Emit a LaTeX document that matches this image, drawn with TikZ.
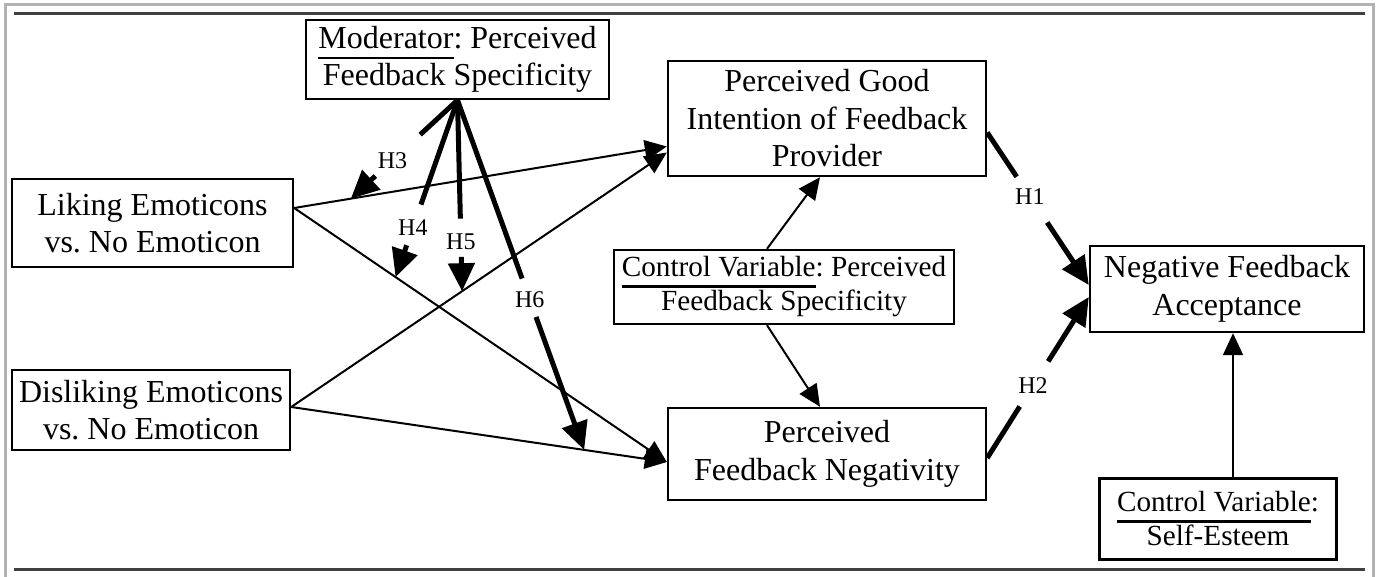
\documentclass[tikz,border=0pt]{standalone}
\usepackage{fontspec}
\setmainfont{Liberation Serif}
\usetikzlibrary{calc,arrows.meta}
\frenchspacing
% underline set a little below the baseline
\newcommand{\undl}[1]{\setbox0\hbox{#1}\rlap{\rule[-5.5pt]{\wd0}{1.3pt}}\box0}

\begin{document}
\begin{tikzpicture}[x=0.5pt,y=-0.5pt,>=Latex,
  box/.style={draw,line width=1.2pt,align=center,inner sep=0pt,font=\fontsize{16}{18.75}\selectfont},
  ctrlbox/.style={box,font=\fontsize{14.6}{17}\selectfont},
  lnk/.style={->,line width=1pt,>={Triangle[length=11pt,width=10pt]}},
  hyp/.style={line width=2.5pt,>={Triangle[length=14pt,width=13pt]}},
  hlab/.style={font=\fontsize{12}{14}\selectfont,inner sep=1pt}]
  \useasboundingbox (0,0) rectangle (1379,577);
  % frame
  \draw[gray!60,line width=1.5pt] (5,577)--(5,5)--(1373,5)--(1373,577);
  \draw[black!75,line width=1.5pt] (14,14)--(1365,14);
  \draw[black!75,line width=1.5pt] (14,569)--(1365,569);
  % boxes
  \node[box,minimum width=151.5pt,minimum height=39.5pt] (moder) at (457.5,59.5)
    {\undl{Moderator}: Perceived\\Feedback Specificity};
  \node[box,minimum width=140.5pt,minimum height=44pt] (liking) at (152.5,223)
    {Liking Emoticons\\vs. No Emoticon};
  \node[box,minimum width=139pt,minimum height=40pt] (disliking) at (151,410)
    {Disliking Emoticons\\vs. No Emoticon};
  \node[box,minimum width=159pt,minimum height=57.5pt] (goodint) at (827,118.5)
    {Perceived Good\\Intention of Feedback\\Provider};
  \node[ctrlbox,minimum width=170pt,minimum height=37pt] (ctrl) at (784,287)
    {\undl{Control Variable}: Perceived\\Feedback Specificity};
  \node[box,minimum width=159pt,minimum height=46pt] (negat) at (827,454)
    {Perceived\\Feedback Negativity};
  \node[box,minimum width=137pt,minimum height=43pt] (accept) at (1227,289)
    {Negative Feedback\\Acceptance};
  \node[ctrlbox,minimum width=118.5pt,minimum height=40.5pt] (selfest) at (1218,519)
    {\undl{Control Variable}:\\Self-Esteem};
  % direct effects
  \coordinate (likeout) at ([yshift=7.5pt]liking.east);
  \coordinate (dislout) at ([yshift=1.5pt]disliking.east);
  \draw[lnk] (likeout) -- coordinate[pos=0.152] (h3) ([yshift=-14pt]goodint.west);
  \draw[lnk] (likeout) -- coordinate[pos=0.272] (h4) ([yshift=-4pt]negat.west);
  \draw[lnk] (dislout) -- coordinate[pos=0.455] (h5) ([yshift=-17pt]goodint.west);
  \draw[lnk] (dislout) -- coordinate[pos=0.78] (h6) ([yshift=-4pt]negat.west);
  \draw[lnk] ([xshift=-8.5pt]ctrl.north) -- ([xshift=-3.5pt]goodint.south);
  \draw[lnk] ([xshift=-8.5pt]ctrl.south) -- ([xshift=-3.5pt]negat.north);
  \draw[lnk] ([xshift=7.5pt]selfest.north) -- ([xshift=3pt]accept.south);
  % hypotheses: line, label, arrow
  \coordinate (h1s) at ([yshift=-7pt]goodint.east);
  \coordinate (h1) at ([yshift=2pt]accept.west);
  \coordinate (h2s) at ([yshift=-2pt]negat.east);
  \coordinate (h2) at ([yshift=-4pt]accept.west);
  \coordinate (ms) at (moder.south);
  \foreach \s/\t/\lab/\a/\b/\c in {ms/h3/H3/0.35/0.61/0.77, ms/h4/H4/0.59/0.72/0.82,
      ms/h5/H5/0.62/0.74/0.82, ms/h6/H6/0.51/0.57/0.62,
      h1s/h1/H1/0.29/0.42/0.59, h2s/h2/H2/0.32/0.45/0.6} {
    \draw[hyp] (\s) -- ($(\s)!\a!(\t)$);
    \node[hlab] (\t lab) at ($(\s)!\b!(\t)$) {\lab};
    \draw[hyp,->] ($(\s)!\c!(\t)$) -- (\t);
  }
\end{tikzpicture}
\end{document}
